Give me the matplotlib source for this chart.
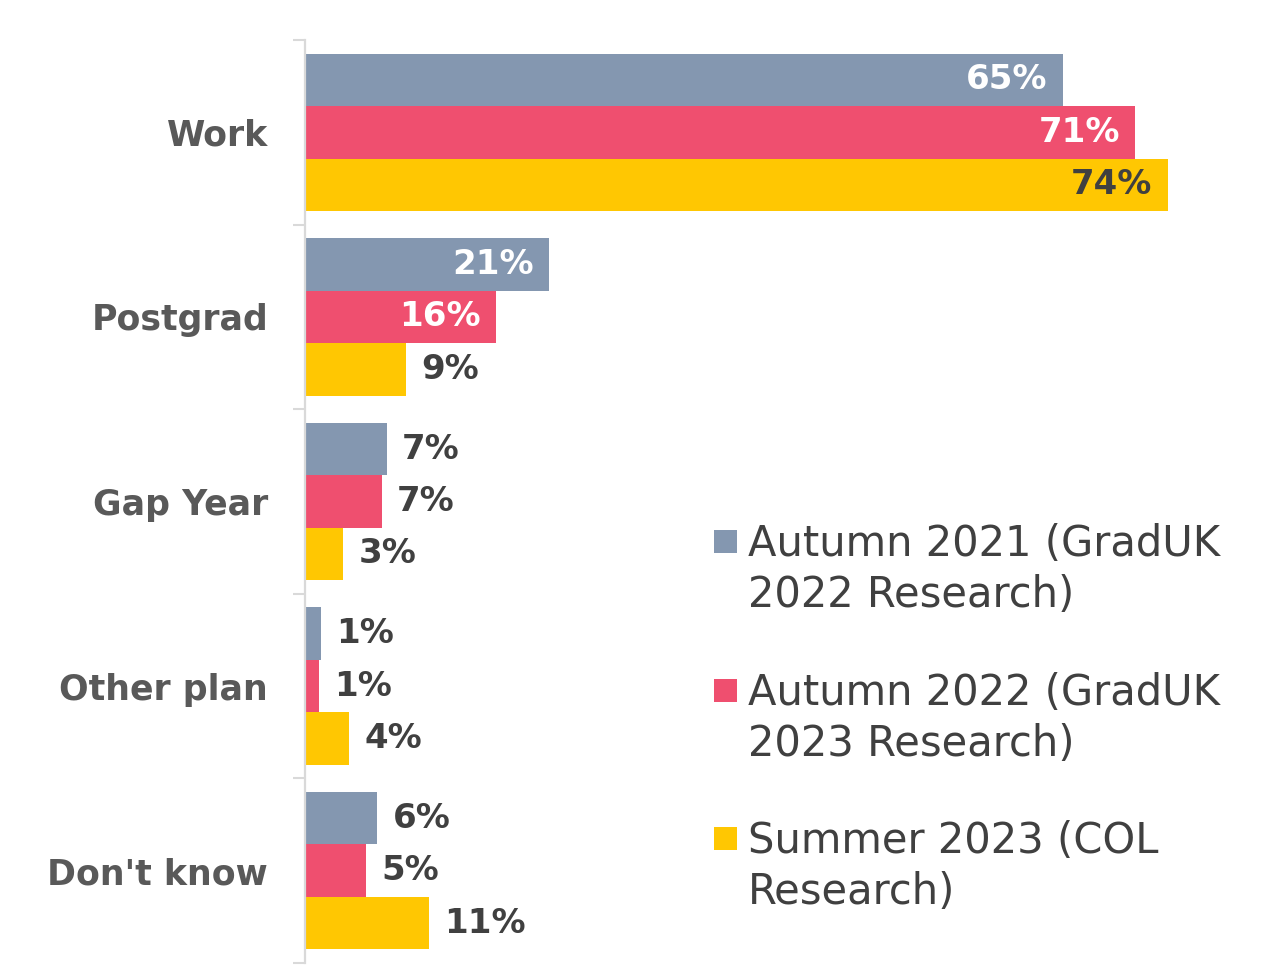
import numpy as np
import matplotlib
matplotlib.use("Agg")
import matplotlib.pyplot as plt
import matplotlib.transforms as mtransforms
from matplotlib.patches import Rectangle

# ---- data ----
categories = ["Work", "Postgrad", "Gap Year", "Other plan", "Don't know"]
series_names = ["Autumn 2021 (GradUK\n2022 Research)",
                "Autumn 2022 (GradUK\n2023 Research)",
                "Summer 2023 (COL\nResearch)"]
autumn2021 = [65.0, 20.9, 7.0, 1.4, 6.2]
autumn2022 = [71.2, 16.4, 6.6, 1.2, 5.2]
summer2023 = [74.0, 8.7, 3.3, 3.8, 10.6]
series = [autumn2021, autumn2022, summer2023]

colors = ["#8497B0", "#EF4F6F", "#FFC702"]
inside_text_colors = ["white", "white", "#404040"]

plt.rcParams['font.family'] = ['DejaVu Sans']

W, H = 1284, 974
fig = plt.figure(figsize=(W / 100, H / 100), dpi=100)
ax = fig.add_axes([305 / W, 1 - 963 / H, (W - 305) / W, 923 / H])

px_per_unit = 11.66
ax.set_xlim(0, (W - 305) / px_per_unit)
ax.set_ylim(len(categories) - 0.5, -0.5)

bar_h = 0.284
y = np.arange(len(categories))
for i, (vals, c) in enumerate(zip(series, colors)):
    ypos = y + (i - 1) * bar_h
    ax.barh(ypos, vals, height=bar_h, color=c, edgecolor='none')
    for yy, v in zip(ypos, vals):
        txt = "%.0f%%" % v
        if v >= 15:
            ax.annotate(txt, xy=(v, yy), xytext=(-11, 0), textcoords='offset points',
                        ha='right', va='center', fontsize=24.5, fontweight='bold',
                        color=inside_text_colors[i])
        else:
            ax.annotate(txt, xy=(v, yy), xytext=(11, 0), textcoords='offset points',
                        ha='left', va='center', fontsize=24.5, fontweight='bold',
                        color='#404040')

ax.set_yticks(y)
ax.set_yticklabels(categories, fontsize=25, fontweight='bold', color='#595959')
shift = mtransforms.ScaledTranslation(0, 3 / 100, fig.dpi_scale_trans)
for lbl in ax.get_yticklabels():
    lbl.set_transform(lbl.get_transform() + shift)
ax.set_yticks(np.arange(-0.5, len(categories), 1), minor=True)
ax.tick_params(axis='y', which='major', length=0, pad=26.5)
ax.tick_params(axis='y', which='minor', length=8.6, width=1.5, color='#d9d9d9', direction='out')
ax.set_xticks([])
for s in ['top', 'right', 'bottom']:
    ax.spines[s].set_visible(False)
ax.spines['left'].set_color('#d9d9d9')
ax.spines['left'].set_linewidth(1.6)

# ---- legend (manual layout) ----
legend_baselines = [556, 705, 853]
line_gap = 51
for name, c, b in zip(series_names, colors, legend_baselines):
    fig.patches.append(Rectangle((714 / W, 1 - (b - 3) / H), 23 / W, 23 / H,
                                 transform=fig.transFigure, facecolor=c,
                                 edgecolor='none'))
    for k, line in enumerate(name.split("\n")):
        fig.text(748 / W, 1 - (b + k * line_gap) / H, line, fontsize=30,
                 color='#404040', ha='left', va='baseline')

fig.savefig("out.png", dpi=100, facecolor='white')
